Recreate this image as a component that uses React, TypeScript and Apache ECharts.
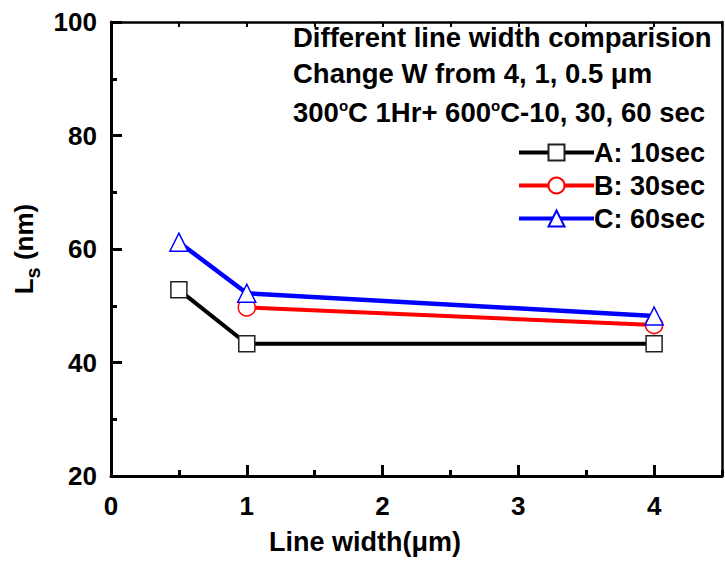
import { useEffect, useRef } from 'react';
import * as echarts from 'echarts';

const lineWidthsUm = [0.5, 1, 4];
const seriesNames = ['A: 10sec', 'B: 30sec', 'C: 60sec'];
const valuesA = [52.8, 43.3, 43.3];
const valuesB = [null, 49.7, 46.6];
const valuesC = [61.2, 52.2, 48.2];
const seriesColors = ['#000000', '#ff0000', '#0000ff'];
const seriesSymbols = ['rect', 'circle', 'triangle'];
const annotationLines = [
  'Different line width comparision',
  'Change W from 4, 1, 0.5 μm',
  '{m|300}{sup|o}{m|C 1Hr+ 600}{sup|o}{m|C-10, 30, 60 sec}',
];
const xAxisTitle = 'Line width(μm)';
const yAxisTitle = '{L|L}{s|s}{n| (nm)}';

const FONT = '"Liberation Sans", Arial, Helvetica, sans-serif';

function toPairs(vals: (number | null)[]) {
  return lineWidthsUm
    .map((x, i) => (vals[i] == null ? null : [x, vals[i]]))
    .filter((p) => p !== null);
}

export default function App() {
  const ref = useRef<HTMLDivElement>(null);
  useEffect(() => {
    if (!ref.current) return;
    const chart = echarts.init(ref.current, undefined, { renderer: 'svg' });
    const allValues = [valuesA, valuesB, valuesC];
    const symbolSizes = [16, 17, 18];
    const lineW = [4, 4, 4.5];
    const series = allValues.map((vals, i) => ({
      name: seriesNames[i],
      type: 'line',
      xAxisIndex: 0,
      yAxisIndex: 0,
      data: toPairs(vals),
      symbol: seriesSymbols[i],
      symbolSize: symbolSizes[i],
      showAllSymbol: true,
      lineStyle: { color: seriesColors[i], width: lineW[i] },
      itemStyle: {
        color: '#ffffff',
        borderColor: i === 0 ? '#222' : seriesColors[i],
        borderWidth: 1.5,
      },
      emphasis: { disabled: true },
      z: 3 + i,
    }));
    const textBase = { fontFamily: FONT, fontWeight: 'bold', color: '#000', fontSize: 26 };
    chart.setOption({
      animation: false,
      backgroundColor: '#ffffff',
      grid: { left: 111, right: 3, top: 22, bottom: 86, containLabel: false },
      legend: {
        orient: 'vertical',
        left: 517,
        top: 139,
        itemWidth: 75,
        itemHeight: 20,
        itemGap: 6,
        padding: 0,
        lineStyle: { width: 4 },
        textStyle: { ...textBase, fontSize: 27, padding: [0, 0, 0, -5] },
        data: seriesNames,
      },
      xAxis: [
        {
          type: 'value',
          position: 'bottom',
          min: 0,
          max: 4.5,
          interval: 1,
          axisLine: { show: true, onZero: false, lineStyle: { color: '#000', width: 3 } },
          axisTick: { show: true, inside: true, length: 11, lineStyle: { color: '#000', width: 3 } },
          axisLabel: { ...textBase, margin: 17, showMaxLabel: false },
          splitLine: { show: false },
          name: xAxisTitle,
          nameLocation: 'middle',
          nameGap: 52,
          nameTextStyle: { ...textBase, fontSize: 27, padding: [0, 103, 0, 0] },
        },
        {
          type: 'value',
          position: 'bottom',
          min: 0,
          max: 4.5,
          interval: 0.5,
          axisLine: { show: false, onZero: false },
          axisTick: { show: true, inside: true, length: 6, lineStyle: { color: '#000', width: 3 } },
          axisLabel: { show: false },
          splitLine: { show: false },
        },
        {
          type: 'value',
          position: 'top',
          min: 0,
          max: 4.5,
          interval: 0.5,
          axisLine: { show: true, onZero: false, lineStyle: { color: '#000', width: 2.5 } },
          axisTick: { show: true, inside: true, length: 5, lineStyle: { color: '#000', width: 2 } },
          axisLabel: { show: false },
          splitLine: { show: false },
        },
      ],
      yAxis: [
        {
          type: 'value',
          position: 'left',
          min: 20,
          max: 100,
          interval: 20,
          axisLine: { show: true, onZero: false, lineStyle: { color: '#000', width: 3 } },
          axisTick: { show: true, inside: true, length: 11, lineStyle: { color: '#000', width: 3 } },
          minorTick: { show: true, splitNumber: 2, length: 6, lineStyle: { color: '#000', width: 3 } },
          minorSplitLine: { show: false },
          axisLabel: { ...textBase, margin: 14 },
          splitLine: { show: false },
          name: yAxisTitle,
          nameLocation: 'middle',
          nameRotate: 90,
          nameGap: 68,
          nameTextStyle: {
            ...textBase,
            padding: [0, 0, 0, 0],
            rich: {
              L: { ...textBase, verticalAlign: 'bottom', padding: [0, 0, 6, 0] },
              s: { ...textBase, fontSize: 20, verticalAlign: 'bottom' },
              n: { ...textBase, verticalAlign: 'bottom', padding: [0, 0, 6, 0] },
            },
          },
        },
        {
          type: 'value',
          position: 'right',
          min: 20,
          max: 100,
          interval: 20,
          axisLine: { show: true, onZero: false, lineStyle: { color: '#000', width: 2.5 } },
          axisTick: { show: false },
          axisLabel: { show: false },
          splitLine: { show: false },
        },
      ],
      graphic: annotationLines.map((t, i) => ({
        type: 'text',
        x: 293,
        y: [37, 73, 112][i],
        z: 10,
        style: {
          text: t,
          fill: '#000',
          fontFamily: FONT,
          fontWeight: 'bold',
          fontSize: 27.5,
          verticalAlign: 'middle',
          rich: {
            m: { fontFamily: FONT, fontWeight: 'bold', fontSize: 27.5, fill: '#000', verticalAlign: 'top' },
            sup: { fontFamily: FONT, fontWeight: 'bold', fontSize: 15, fill: '#000', verticalAlign: 'top' },
          },
        },
      })),
      series,
    });
    return () => chart.dispose();
  }, []);
  return <div ref={ref} style={{ width: 725, height: 562, position: 'absolute', left: 0, top: 0 }} />;
}
